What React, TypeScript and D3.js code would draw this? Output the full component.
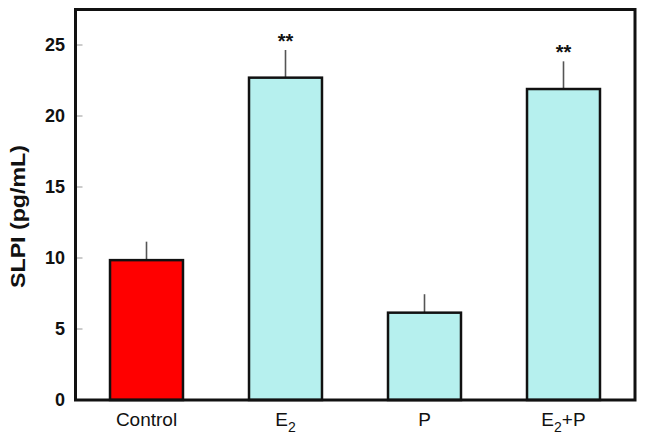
import React from "react";
import * as d3 from "d3";

const categories = ["Control", "E2", "P", "E2+P"];
const means = [9.85, 22.7, 6.15, 21.9];
const errors = [1.3, 1.95, 1.3, 1.95];
const significance = ["", "**", "", "**"];
const barColors = ["#ff0000", "#b6f0ee", "#b6f0ee", "#b6f0ee"];
const yTicks = [0, 5, 10, 15, 20, 25];

const W = 645;
const H = 443;
const left = 75.5;
const right = 635;
const top = 9.5;
const bottom = 400;

export default function App() {
  const x = d3
    .scaleBand<string>()
    .domain(categories)
    .range([77, 633])
    .paddingInner(0.475)
    .paddingOuter(0.2375);
  const y = d3.scaleLinear().domain([0, 27.5]).range([bottom, top]);
  const bw = x.bandwidth();

  const renderLabel = (c: string) => {
    if (c === "E2") {
      return (
        <>
          E<tspan dy="6" fontSize="14">2</tspan>
        </>
      );
    }
    if (c === "E2+P") {
      return (
        <>
          E<tspan dy="6" fontSize="14">2</tspan>
          <tspan dy="-6">+P</tspan>
        </>
      );
    }
    return c;
  };

  return (
    <svg
      width={W}
      height={H}
      style={{ position: "absolute", left: 0, top: 0, background: "#fff" }}
      fontFamily="'Liberation Sans', Arial, sans-serif"
    >
      {/* bars */}
      {categories.map((c, i) => {
        const x0 = x(c)!;
        const cx = x0 + bw / 2;
        return (
          <g key={c}>
            <line
              x1={cx}
              x2={cx}
              y1={y(means[i])}
              y2={y(means[i] + errors[i])}
              stroke="#555"
              strokeWidth={1.6}
            />
            <rect
              x={x0}
              y={y(means[i])}
              width={bw}
              height={bottom - y(means[i])}
              fill={barColors[i]}
              stroke="#111"
              strokeWidth={2.5}
            />
            {significance[i] && (
              <text
                x={cx}
                y={y(means[i] + errors[i]) - 2}
                textAnchor="middle"
                fontSize={20}
                fontWeight="bold"
                fill="#111"
              >
                {significance[i]}
              </text>
            )}
            <text
              x={cx}
              y={426}
              textAnchor="middle"
              fontSize={19}
              fill="#111"
            >
              {renderLabel(c)}
            </text>
          </g>
        );
      })}
      {/* y ticks */}
      {yTicks.map((t) => (
        <g key={t}>
          {t > 0 && (
            <line
              x1={left}
              x2={left + 7}
              y1={y(t)}
              y2={y(t)}
              stroke="#999"
              strokeWidth={1}
            />
          )}
          <text
            x={65}
            y={y(t)}
            dy="0.36em"
            textAnchor="end"
            fontSize={18}
            fontWeight="bold"
            fill="#111"
          >
            {t}
          </text>
        </g>
      ))}
      {/* frame */}
      <rect
        x={left}
        y={top}
        width={right - left}
        height={bottom - top}
        fill="none"
        stroke="#111"
        strokeWidth={3}
      />
      <text
        transform="translate(25,216.5) rotate(-90)"
        textAnchor="middle"
        fontSize={21}
        fontWeight="bold"
        fill="#111"
        textLength={143}
        lengthAdjust="spacingAndGlyphs"
      >
        SLPI (pg/mL)
      </text>
    </svg>
  );
}
